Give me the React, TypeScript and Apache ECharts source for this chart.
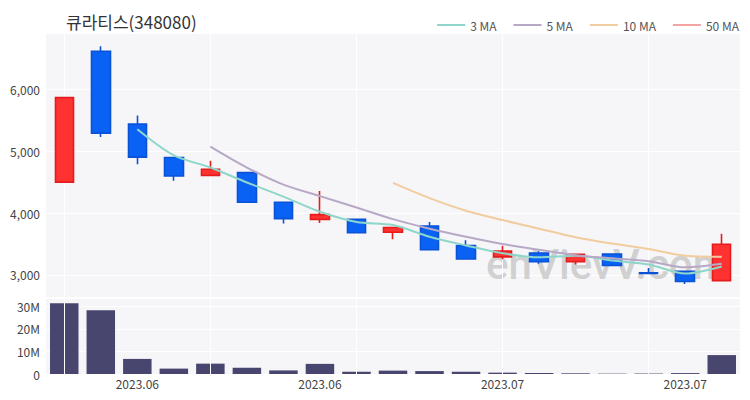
import React, { useEffect, useRef } from "react";
import * as echarts from "echarts";

const title = "큐라티스(348080)";
const dates = [
  "2023-06-16", "2023-06-19", "2023-06-20", "2023-06-21", "2023-06-22",
  "2023-06-23", "2023-06-26", "2023-06-27", "2023-06-28", "2023-06-29",
  "2023-06-30", "2023-07-03", "2023-07-04", "2023-07-05", "2023-07-06",
  "2023-07-07", "2023-07-10", "2023-07-11", "2023-07-12",
];
const opens = [4500, 6620, 5440, 4900, 4610, 4655, 4175, 3895, 3900, 3690, 3790, 3475, 3290, 3350, 3210, 3335, 3030, 3055, 2905];
const closes = [5870, 5295, 4905, 4600, 4710, 4175, 3910, 3975, 3680, 3765, 3405, 3255, 3385, 3210, 3330, 3150, 3020, 2890, 3495];
const lows = [4500, 5230, 4790, 4525, 4595, 4175, 3830, 3840, 3675, 3575, 3405, 3255, 3250, 3180, 3165, 3145, 3020, 2850, 2905];
const highs = [5870, 6700, 5580, 4900, 4845, 4665, 4175, 4355, 3900, 3765, 3855, 3560, 3470, 3380, 3330, 3340, 3110, 3055, 3665];
const volumes = [31400000, 28300000, 6700000, 2400000, 4600000, 2800000, 1600000, 4500000, 1000000, 1500000, 1300000, 1000000, 600000, 450000, 300000, 150000, 200000, 400000, 8400000];
const priceTicks = [3000, 4000, 5000, 6000];
const volumeTicks = [0, 10000000, 20000000, 30000000];
const xLabelIndices = [2, 7, 12, 17];
const vLineIndices = [0, 4, 8, 12, 16];
const maPeriods = [3, 5, 10, 50];
const maColors = ["#8ed6c9", "#b7a8c6", "#f1cc9e", "#f5a3a3"];

function movingAverage(period: number): (number | string)[] {
  return closes.map((_, i) => {
    if (i < period - 1) return "-";
    let s = 0;
    for (let k = i - period + 1; k <= i; k++) s += closes[k];
    return +(s / period).toFixed(1);
  });
}

const FONT = "'Noto Sans CJK KR', 'Noto Sans', sans-serif";

export default function App() {
  const ref = useRef<HTMLDivElement>(null);
  useEffect(() => {
    if (!ref.current) return;
    const chart = echarts.init(ref.current, null, { renderer: "svg" });
    const candleData = dates.map((_, i) => [opens[i], closes[i], lows[i], highs[i]]);
    const option: any = {
      animation: false,
      backgroundColor: "#ffffff",
      textStyle: { fontFamily: FONT },
      title: {
        text: title,
        left: 61,
        top: 8,
        textStyle: { fontSize: 17, fontWeight: "normal", color: "#333", fontFamily: FONT },
      },
      legend: {
        right: 6,
        top: 14,
        itemWidth: 28,
        itemHeight: 8,
        itemGap: 17,
        icon: "path://M0,4 L28,4 L28,6 L0,6 Z",
        textStyle: { fontSize: 12, color: "#555", fontFamily: FONT },
        data: maPeriods.map((p) => `${p} MA`),
      },
      graphic: [
        {
          type: "text",
          left: 486,
          top: 243,
          z: 1,
          silent: true,
          style: {
            text: "enVievV.com",
            fontSize: 42,
            fontWeight: 500,
            fill: "rgba(170,170,170,0.5)",
            fontFamily: "Roboto, sans-serif",
          },
        },
      ],
      grid: [
        { left: 46, right: 10, top: 34, height: 263, show: true, backgroundColor: "#f6f6f8", borderWidth: 0 },
        { left: 46, right: 10, top: 299, height: 75, show: true, backgroundColor: "#f6f6f8", borderWidth: 0 },
      ],
      xAxis: [
        {
          type: "category",
          gridIndex: 0,
          data: dates,
          axisLine: { show: false },
          axisTick: { show: false },
          axisLabel: { show: false },
          splitLine: { show: false },
        },
        {
          type: "category",
          gridIndex: 1,
          data: dates,
          axisLine: { show: false },
          axisTick: { show: false },
          axisLabel: {
            interval: (idx: number) => xLabelIndices.includes(idx),
            formatter: (v: string) => v.slice(0, 7).replace("-", "."),
            color: "#444",
            fontSize: 12,
            margin: 3,
            fontFamily: FONT,
          },
          splitLine: { show: false },
        },
      ],
      yAxis: [
        {
          type: "value",
          gridIndex: 0,
          min: 2640,
          max: 6900,
          axisLine: { show: false },
          axisTick: { show: false, customValues: priceTicks },
          axisLabel: {
            customValues: priceTicks,
            formatter: (v: number) => v.toLocaleString("en-US"),
            color: "#444",
            fontSize: 12,
            margin: 6,
            fontFamily: FONT,
          },
          splitLine: { show: true, lineStyle: { color: "#ffffff", width: 1 } },
        },
        {
          type: "value",
          gridIndex: 1,
          min: 0,
          max: 33300000,
          axisLine: { show: false },
          axisTick: { show: false, customValues: volumeTicks },
          axisLabel: {
            customValues: volumeTicks,
            formatter: (v: number) => (v === 0 ? "0" : `${v / 1000000}M`),
            color: "#444",
            fontSize: 12,
            margin: 6,
            fontFamily: FONT,
          },
          splitLine: { show: true, lineStyle: { color: "#ffffff", width: 1 } },
        },
      ],
      series: [
        {
          type: "candlestick",
          name: "price",
          xAxisIndex: 0,
          yAxisIndex: 0,
          data: candleData,
          barWidth: 19,
          z: 3,
          itemStyle: {
            color: "#ff3232",
            color0: "#0a62f4",
            borderColor: "#e51c1c",
            borderColor0: "#0a52d6",
            borderWidth: 1.6,
          },
          markLine: {
            silent: true,
            symbol: "none",
            label: { show: false },
            z: 1,
            lineStyle: { color: "#ffffff", width: 1, type: "solid" },
            data: vLineIndices.map((i) => ({ xAxis: i })),
          },
        },
        ...maPeriods.map((p, k) => ({
          type: "line",
          name: `${p} MA`,
          xAxisIndex: 0,
          yAxisIndex: 0,
          data: movingAverage(p),
          symbol: "none",
          smooth: 0.3,
          z: 4,
          lineStyle: { color: maColors[k], width: 2 },
          itemStyle: { color: maColors[k] },
        })),
        {
          type: "bar",
          name: "volume",
          xAxisIndex: 1,
          yAxisIndex: 1,
          data: volumes,
          barWidth: "78%",
          itemStyle: { color: "#48466f" },
          markLine: {
            silent: true,
            symbol: "none",
            label: { show: false },
            lineStyle: { color: "#ffffff", width: 1, type: "solid" },
            data: vLineIndices.map((i) => ({ xAxis: i })),
          },
        },
      ],
    };
    chart.setOption(option);
    return () => chart.dispose();
  }, []);
  return (
    <div
      ref={ref}
      style={{ position: "absolute", left: 0, top: 0, width: 750, height: 400 }}
    />
  );
}
